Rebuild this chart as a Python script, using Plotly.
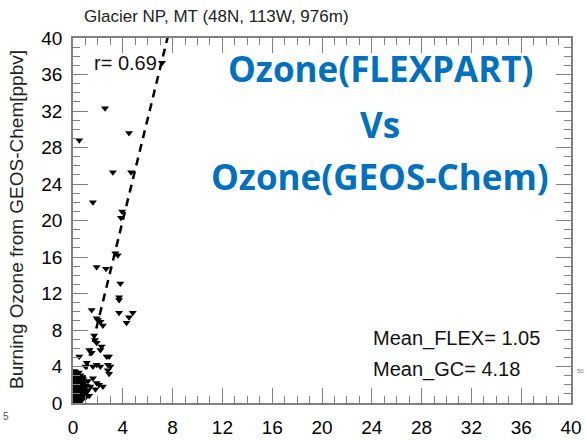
import plotly.graph_objects as go

# ---- data ----
outlier_flex = [7.15, 0.5, 2.57, 4.5, 3.2, 4.66, 3.85, 3.95, 1.6, 1.9, 2.65, 3.6, 3.4, 3.8,
                3.7, 3.7, 3.7, 4.8, 4.5, 4.3, 1.5, 1.9, 2.0, 2.2, 2.4]
outlier_gc = [37.3, 28.8, 32.3, 29.6, 25.3, 25.3, 20.3, 21.0, 22.0, 14.9, 14.7, 16.2, 16.4, 13.1,
              11.3, 11.6, 9.9, 9.9, 9.4, 8.8, 10.2, 9.3, 9.1, 8.9, 8.5]

mid_flex = [1.77, 1.9, 1.7, 1.3, 2.2, 2.3, 1.5, 0.5, 2.7, 2.9, 1.9, 2.2, 1.6, 2.8, 3.0, 2.8, 2.9,
            1.1, 1.0, 2.4, 1.9, 1.4, 1.1, 1.6, 1.2, 1.3, 1.0, 1.8, 2.1]
mid_gc = [6.9, 6.6, 7.4, 5.8, 5.8, 6.2, 5.5, 5.1, 5.1, 5.1, 4.2, 4.0, 4.0, 4.2, 4.0, 3.6, 3.2,
          4.4, 4.0, 1.8, 2.2, 1.8, 1.4, 2.7, 2.4, 0.8, 0.6, 1.5, 2.0]

cluster_flex = [0.05, 0.12, 0.2, 0.28, 0.35, 0.08, 0.18, 0.3, 0.42, 0.5,
                0.1, 0.22, 0.33, 0.45, 0.6, 0.04, 0.15, 0.26, 0.38, 0.55,
                0.7, 0.12, 0.24, 0.36, 0.48, 0.65, 0.8, 0.06, 0.19, 0.31,
                0.44, 0.58, 0.75, 0.9, 0.1, 0.25, 0.4, 0.52, 0.68, 0.85,
                1.0, 0.14, 0.3, 0.46, 0.62, 0.78, 0.95, 1.1, 0.08, 0.2,
                0.35, 0.5, 0.72, 0.88, 1.05, 1.2, 0.16, 0.28, 0.43, 0.6,
                0.05, 0.18, 0.32, 0.47, 0.66, 0.82, 0.12, 0.27, 0.4, 0.57,
                0.02, 0.09, 0.22, 0.37, 0.53, 0.7, 0.15, 0.3, 0.11, 0.24]
cluster_gc = [0.1, 0.2, 0.15, 0.3, 0.25, 0.5, 0.45, 0.6, 0.4, 0.35,
              0.8, 0.75, 0.9, 0.7, 0.55, 1.0, 1.1, 1.2, 0.95, 1.05,
              0.65, 1.4, 1.5, 1.35, 1.45, 1.25, 0.85, 1.7, 1.8, 1.65,
              1.75, 1.6, 1.3, 1.0, 2.0, 2.1, 1.95, 2.2, 1.85, 1.5,
              1.15, 2.4, 2.5, 2.35, 2.3, 2.0, 1.7, 1.2, 2.7, 2.8,
              2.6, 2.75, 2.5, 2.2, 1.9, 1.4, 3.0, 3.1, 2.9, 3.05,
              3.3, 3.4, 3.2, 3.35, 2.8, 2.6, 0.05, 0.1, 0.2, 0.15,
              0.6, 1.3, 0.3, 0.05, 0.9, 0.3, 2.3, 0.7, 3.5, 0.0]

reg_intercept = -2.27
reg_slope = 5.57
line_x = [0.0, 8.0]

axis_ticks = [0, 4, 8, 12, 16, 20, 24, 28, 32, 36, 40]

title_text = "Glacier NP, MT (48N, 113W, 976m)"
ytitle_text = "Burning Ozone from GEOS-Chem[ppbv]"
r_text = "r= 0.69"
mean_flex_text = "Mean_FLEX= 1.05"
mean_gc_text = "Mean_GC= 4.18"
big_lines = ["Ozone(FLEXPART)", "Vs", "Ozone(GEOS-Chem)"]

# ---- figure ----
flex = cluster_flex + mid_flex + outlier_flex
gc = cluster_gc + mid_gc + outlier_gc

W, H = 586, 441
L, R, T, B = 73, 15, 38, 38
pw, ph = W - L - R, H - T - B

fig = go.Figure()
fig.add_trace(go.Scatter(
    x=line_x, y=[reg_intercept + reg_slope * v for v in line_x],
    mode="lines", line=dict(color="black", width=2.5, dash="8px,6px"),
    hoverinfo="skip", showlegend=False))
fig.add_trace(go.Scatter(
    x=flex, y=gc, mode="markers",
    marker=dict(symbol="triangle-down", size=7, color="black", line=dict(width=0)),
    showlegend=False))

axis_common = dict(
    range=[0, 40], tickvals=axis_ticks, ticks="inside", ticklen=15, tickwidth=1.3,
    tickcolor="#808080", showline=True, linecolor="#808080", linewidth=1.5,
    mirror="ticks", showgrid=False, zeroline=False, automargin=False,
    tickfont=dict(family="Liberation Sans, Arial, sans-serif", size=19, color="black"),
    minor=dict(dtick=1, ticks="inside", ticklen=7, tickwidth=1.2, tickcolor="#808080", showgrid=False),
)

fig.update_layout(
    width=W, height=H,
    margin=dict(l=L, r=R, t=T, b=B, autoexpand=False),
    paper_bgcolor="white", plot_bgcolor="white",
    xaxis=dict(**axis_common, ticklabelstandoff=6),
    yaxis=dict(**axis_common, ticklabelstandoff=5),
    font=dict(family="Liberation Sans, Arial, sans-serif", color="black"),
)

txt_font = dict(family="Liberation Sans, Arial, sans-serif", size=20, color="#111111")

annotations = [
    dict(text=title_text, x=83, y=16, xanchor="left",
         font=dict(family="Liberation Sans, Arial, sans-serif", size=17, color="#222222")),
    dict(text=ytitle_text, x=17, y=220, textangle=-90,
         font=dict(family="Liberation Sans, Arial, sans-serif", size=19, color="#222222")),
    dict(text=r_text, x=93, y=63, xanchor="left", font=txt_font),
    dict(text=mean_flex_text, x=372, y=338, xanchor="left", font=txt_font),
    dict(text=mean_gc_text, x=372, y=369, xanchor="left", font=txt_font),
    dict(text="5", x=6, y=416, font=dict(family="Liberation Sans, Arial", size=10, color="#555555")),
    dict(text="50", x=576, y=371, xanchor="left",
         font=dict(family="Liberation Sans, Arial", size=6, color="#777777")),
]
for line_text, yc in zip(big_lines, [68, 124, 176]):
    annotations.append(dict(text="<b>" + line_text + "</b>", x=380, y=yc,
                            font=dict(family="Open Sans, sans-serif", size=35, color="#0070C0")))

anns = []
for a in annotations:
    px, py = a.pop("x"), a.pop("y")
    a.update(xref="paper", yref="paper", x=(px - L) / pw, y=1 - (py - T) / ph,
             showarrow=False, yanchor="middle", borderpad=0)
    a.setdefault("xanchor", "center")
    anns.append(a)
fig.update_layout(annotations=anns)

fig.write_html("out.html", config={"displayModeBar": False},
               post_script="document.body.style.margin='0';document.body.style.overflow='hidden';")
